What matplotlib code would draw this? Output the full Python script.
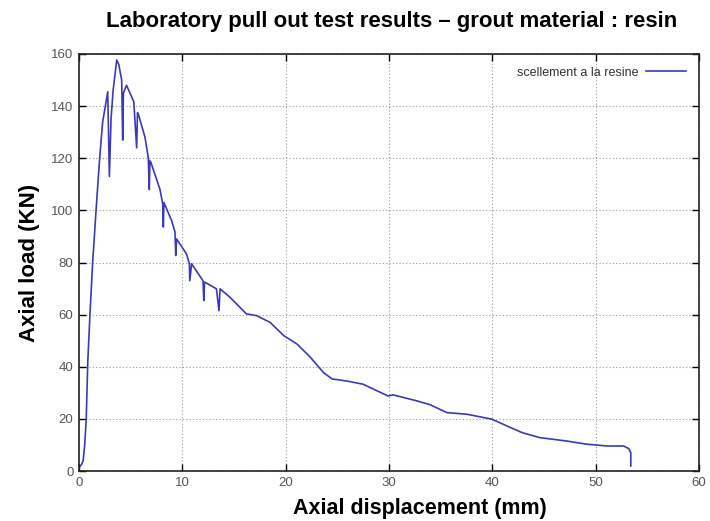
import matplotlib
matplotlib.use("Agg")
import matplotlib.pyplot as plt

# Data
displacement_mm = [0, 0.26, 0.4, 0.55, 0.7, 0.85, 1.06, 1.32, 1.65, 2.0, 2.29, 2.55, 2.78, 2.94,
                   3.1, 3.3, 3.65, 3.85, 4.13, 4.23, 4.3, 4.6, 5.3, 5.58, 5.66, 5.74, 6.39,
                   6.71, 6.8, 6.86, 6.94, 7.84, 8.1, 8.16, 8.22, 8.97, 9.29, 9.36, 9.45, 10.4,
                   10.68, 10.72, 10.9, 12.0, 12.08, 12.15, 13.3, 13.55, 13.65, 14.6, 16.2,
                   17.2, 18.5, 19.8, 21.1, 22.4, 23.65, 24.5, 25.3, 26.2, 27.5, 28.5, 29.9,
                   30.4, 32.7, 34.0, 35.6, 37.5, 39.95, 41.4, 42.9, 44.6, 47.2, 49.1, 51.1,
                   52.7, 53.2, 53.4, 53.4]
load_kn = [1.3, 2.6, 4.0, 10, 20, 42, 60, 80, 100, 120, 134, 140, 145.5, 113,
           135, 146, 157.7, 156, 150, 127, 145, 148, 141.7, 124, 137.5, 137, 128,
           120, 108, 119, 118.6, 108, 102.5, 93.6, 103, 96, 91.7, 82.7, 89, 83.3,
           79.5, 73, 79.5, 73, 65.4, 72.5, 69.9, 61.5, 69.9, 66.7, 60.3,
           59.6, 57, 52, 48.7, 43.6, 37.8, 35.3, 34.9, 34.3, 33.3, 31.4, 28.8,
           29.2, 26.9, 25.4, 22.4, 21.8, 19.9, 17.3, 14.7, 12.8, 11.5, 10.3, 9.6,
           9.6, 8.6, 7.0, 1.9]
series_label = "scellement a la resine"
title = "Laboratory pull out test results \u2013 grout material : resin"
xlabel = "Axial displacement (mm)"
ylabel = "Axial load (KN)"
x_ticks = [0, 10, 20, 30, 40, 50, 60]
y_ticks = [0, 20, 40, 60, 80, 100, 120, 140, 160]

plt.rcParams['font.family'] = ['Liberation Sans', 'DejaVu Sans']

fig = plt.figure(figsize=(7.10, 5.21), dpi=100)
ax = fig.add_axes([79/710, 50/521, 620/710, 417/521])

ax.plot(displacement_mm, load_kn, color='#3a3ab8', lw=1.2, label=series_label)

ax.set_xlim(0, 60)
ax.set_ylim(0, 160)
ax.set_xticks(x_ticks)
ax.set_yticks(y_ticks)
ax.tick_params(direction='in', length=5, width=1, top=True, right=True,
               labelsize=9.5, labelcolor='#555555', pad=4)
ax.grid(True, linestyle=(0, (1, 2)), color='#999999', lw=0.8)
for s in ax.spines.values():
    s.set_linewidth(1.2)
    s.set_color('#222222')

ax.set_xlabel(xlabel, fontsize=15.5, fontweight='bold')
ax.xaxis.set_label_coords((420 - 79) / 620, -(494 - 467) / 417)
ax.set_ylabel(ylabel, fontsize=16, fontweight='bold', labelpad=8)
fig.text(392/710, 1 - 22/521, title, fontsize=16, fontweight='bold',
         ha='center', va='center')

leg = ax.legend(loc='upper right', frameon=False, markerfirst=False, fontsize=9,
                handlelength=3.2, borderaxespad=0.6, handletextpad=0.6)
for t in leg.get_texts():
    t.set_color('#333333')

fig.savefig("out.png", dpi=100, facecolor='white')
